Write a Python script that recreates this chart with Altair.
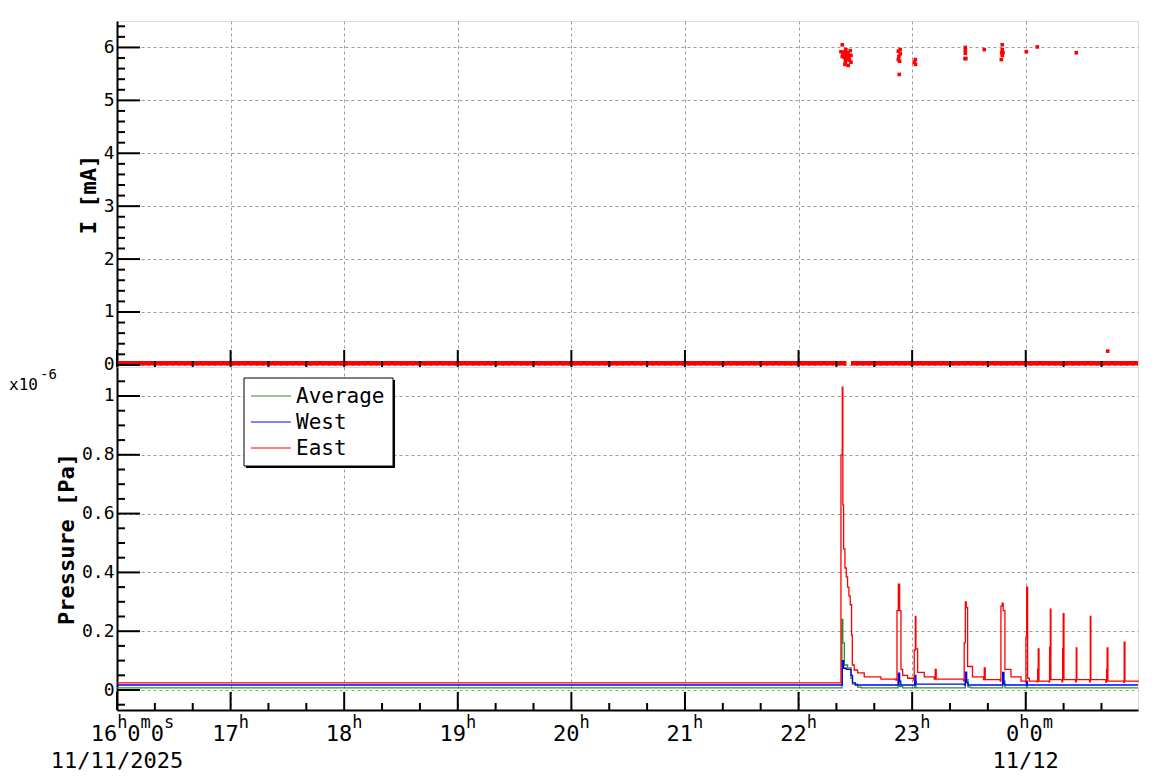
import altair as alt
import pandas as pd

# ---------------- data (time = minutes after 2025-11-11 16:00:00) ----------------
# Pressure in units of 1e-6 Pa
east_t = [0, 382.4, 382.9, 383.1, 383.4, 383.8, 384.5, 385.2, 385.9, 386.6, 387.3, 388.0, 388.4, 389.4,
          391.2, 394.7, 403.5, 411.4, 412.0, 412.7, 413.4, 414.1, 415.0, 417.6, 420.8, 421.1, 421.7,
          422.0, 422.9, 426.4, 431.7, 432.2, 432.7, 447.2, 447.5, 448.1, 448.6, 449.3, 450.5, 451.9,
          457.7, 458.1, 458.6, 466.5, 466.9, 467.6, 468.1, 469.0, 472.2, 477.5, 479.8, 480.1, 480.5,
          481.0, 481.9, 485.9, 486.3, 486.6, 487.0, 492.3, 492.6, 493.0, 493.3, 499.1, 499.5, 499.8,
          500.2, 506.3, 506.7, 507.0, 513.7, 514.1, 514.4, 522.3, 522.7, 523.0, 523.4, 531.7, 532.0,
          532.4, 539.3]
east_v = [0.024, 0.80, 0.80, 1.03, 0.63, 0.48, 0.415, 0.385, 0.35, 0.32, 0.29, 0.187, 0.085, 0.068,
          0.058, 0.045, 0.037, 0.034, 0.27, 0.36, 0.27, 0.07, 0.05, 0.04, 0.034, 0.136, 0.25,
          0.14, 0.06, 0.045, 0.037, 0.07, 0.037, 0.03, 0.16, 0.30, 0.28, 0.08, 0.08, 0.045,
          0.035, 0.075, 0.035, 0.03, 0.285, 0.295, 0.27, 0.07, 0.045, 0.03, 0.028, 0.18, 0.35,
          0.04, 0.03, 0.028, 0.07, 0.14, 0.03, 0.028, 0.145, 0.275, 0.035, 0.028, 0.14, 0.26,
          0.035, 0.028, 0.143, 0.035, 0.028, 0.25, 0.035, 0.027, 0.07, 0.143, 0.03, 0.026, 0.163,
          0.03, 0.026]
west_t = [0, 382.4, 383.1, 383.8, 385.2, 386.6, 387.7, 388.5, 390.0, 412.3, 412.7, 413.4, 414.0,
          421.0, 421.3, 422.0, 447.6, 448.1, 448.8, 449.5, 467.4, 467.8, 468.5, 469.0, 480.2, 480.4,
          480.8, 539.3]
west_v = [0.017, 0.017, 0.10, 0.074, 0.07, 0.07, 0.05, 0.024, 0.017, 0.017, 0.057, 0.03, 0.017,
          0.017, 0.05, 0.02, 0.017, 0.061, 0.025, 0.017, 0.017, 0.06, 0.02, 0.017, 0.017, 0.03,
          0.017, 0.017]
avg_t = [0, 382.4, 382.9, 383.4, 384.2, 385.9, 387.7, 388.5, 391.2, 393.0, 412.2, 412.6, 413.4, 415.0,
         421.1, 421.4, 422.0, 447.6, 448.1, 449.5, 451.0, 467.4, 467.8, 469.0, 480.2, 480.4, 480.8,
         539.3]
avg_v = [0.007, 0.007, 0.24, 0.16, 0.085, 0.075, 0.04, 0.02, 0.01, 0.007, 0.007, 0.035, 0.012, 0.007,
         0.007, 0.03, 0.007, 0.007, 0.035, 0.01, 0.007, 0.007, 0.03, 0.007, 0.007, 0.02, 0.007,
         0.007]

# Current I [mA]: isolated readings
cur_t = [383.1, 382.4, 383.5, 384.5, 385.6, 387.3, 383.1, 384.2, 385.2, 386.6, 387.7, 385.9, 384.8,
         387.7, 384.5, 386.2, 386.9, 383.8, 384.0, 386.0, 385.0, 386.4, 384.9,
         413.7, 412.7, 413.7, 413.0, 412.7, 413.4, 413.2,
         421.7, 421.1, 421.8,
         448.1, 448.1, 448.1, 448.4, 447.9, 458.1,
         467.6, 467.6, 467.6, 467.3, 468.0, 467.1,
         480.3, 486.1, 506.7, 523.3]
cur_v = [6.05, 5.92, 5.88, 5.92, 5.88, 5.94, 5.83, 5.81, 5.85, 5.81, 5.85, 5.77, 5.73,
         5.72, 5.68, 5.66, 5.76, 5.86, 5.90, 5.90, 5.96, 5.86, 5.79,
         5.96, 5.93, 5.88, 5.83, 5.77, 5.74, 5.49,
         5.77, 5.72, 5.68,
         6.00, 5.95, 5.89, 5.79, 5.79, 5.96,
         6.05, 5.96, 5.85, 5.90, 5.90, 5.77,
         5.92, 6.01, 5.90, 0.26]
# Current near zero (dense readings) as segments
cur_base_t0 = [0, 387.7]
cur_base_t1 = [385.3, 539.3]
cur_base_v = [0.03, 0.03]

series_names = ["Average", "West", "East"]
series_colors = ["#2b8f2b", "#0000ff", "#ff0000"]

hour_t = [0, 60, 120, 180, 240, 300, 360, 420, 480]
hour_labels = [[("16", "h"), ("0", "m"), ("0", "s")], [("17", "h")], [("18", "h")], [("19", "h")],
               [("20", "h")], [("21", "h")], [("22", "h")], [("23", "h")], [("0", "h"), ("0", "m")]]
date_t = [0, 480]
date_labels = ["11/11/2025", "11/12"]

i_major = [0, 1, 2, 3, 4, 5, 6]
i_minor = [round(k * 0.2, 2) for k in range(33) if k % 5]
p_major = [0, 0.2, 0.4, 0.6, 0.8, 1.0]
p_minor = [round(k * 0.05, 2) for k in range(-1, 22) if k % 4]
x_minor = [k * 20 for k in range(27) if k % 3]

# ---------------- layout / style ----------------
FONT = "DejaVu Sans Mono"
W, H1, H2 = 1021, 346, 343
xs = alt.Scale(domain=[0, 539.3], nice=False, zero=False)
y1s = alt.Scale(domain=[-0.04, 6.5], nice=False, zero=False)
y2s = alt.Scale(domain=[-0.068, 1.0986], nice=False, zero=False)

GRID = dict(grid=True, gridColor="#9b9b9b", gridDash=[3, 3], gridWidth=1)
xax_top = alt.Axis(values=hour_t[1:], labels=False, ticks=False, tickSize=0, title=None, domain=False,
                   **GRID)
xax_bot = alt.Axis(values=hour_t[1:], labels=False, ticks=False, tickSize=0, title=None, domain=True,
                   domainColor="black", domainWidth=2, **GRID)


def yaxis(vals, title):
    return alt.Axis(values=vals, title=title, format="~g", ticks=False, tickSize=0, labelPadding=3,
                    labelFont=FONT, labelFontSize=18, labelColor="black", labelFlush=False,
                    labelOverlap=False, domain=True, domainColor="black", domainWidth=2,
                    titleFont=FONT, titleFontSize=22, titleFontWeight="bold", titleColor="black",
                    titlePadding=3, **GRID)


y1ax = yaxis(i_major, "I [mA]")
y2ax = yaxis(p_major, "Pressure [Pa]")


def make_X(xax):
    def X(field="t"):
        return alt.X(f"{field}:Q", scale=xs, axis=xax)
    return X


X1 = make_X(xax_top)
X2 = make_X(xax_bot)


def yticks(vals, length, ys, yax):
    return alt.Chart(pd.DataFrame({"v": vals})).mark_rule(color="black", strokeWidth=2).encode(
        y=alt.Y("v:Q", scale=ys, axis=yax), x=alt.value(0), x2=alt.value(length))


def xticks(vals, length, H, X):
    return alt.Chart(pd.DataFrame({"t": vals})).mark_rule(color="black", strokeWidth=2).encode(
        x=X(), y=alt.value(H), y2=alt.value(H - length))


# ---------------- top panel: current ----------------
base_df = pd.DataFrame({"t": cur_base_t0, "t1": cur_base_t1, "v": cur_base_v})
cur_df = pd.DataFrame({"t": cur_t, "v": cur_v})

top_layers = [
    alt.Chart(base_df).mark_rule(color="#ff0000", strokeWidth=4.5).encode(
        x=X1(), x2="t1:Q", y=alt.Y("v:Q", scale=y1s, axis=y1ax)),
    alt.Chart(cur_df).mark_square(color="#ff0000", size=13, opacity=1).encode(
        x=X1(), y=alt.Y("v:Q", scale=y1s, axis=y1ax)),
    yticks(i_major, 23, y1s, y1ax),
    yticks(i_minor, 8, y1s, y1ax),
    xticks(hour_t, 17, H1, X1),
    xticks(x_minor, 6, H1, X1),
]
top = alt.layer(*top_layers).properties(width=W, height=H1)

# ---------------- bottom panel: pressure ----------------
press = pd.concat([
    pd.DataFrame({"t": avg_t, "v": avg_v, "series": series_names[0]}),
    pd.DataFrame({"t": west_t, "v": west_v, "series": series_names[1]}),
    pd.DataFrame({"t": east_t, "v": east_v, "series": series_names[2]}),
], ignore_index=True)

bot_layers = [
    alt.Chart(press).mark_line(interpolate="step-after", strokeWidth=1.3).encode(
        x=X2(), y=alt.Y("v:Q", scale=y2s, axis=y2ax),
        color=alt.Color("series:N", scale=alt.Scale(domain=series_names, range=series_colors),
                        legend=None)),
    yticks(p_major, 23, y2s, y2ax),
    yticks(p_minor, 8, y2s, y2ax),
    xticks(hour_t, 18, H2, X2),
    xticks(x_minor, 7, H2, X2),
]

# time labels with superscript units
MAIN_FS, SUP_FS = 22, 17
MAIN_ADV, SUP_ADV = 0.602 * MAIN_FS, 0.602 * SUP_FS
for t, pairs in zip(hour_t, hour_labels):
    first_w = len(pairs[0][0]) * MAIN_ADV + len(pairs[0][1]) * SUP_ADV
    off = -first_w / 2 - (8 if len(pairs) > 1 else 0)
    for num, unit in pairs:
        bot_layers.append(
            alt.Chart(pd.DataFrame({"t": [t], "s": [num]})).mark_text(
                align="left", baseline="alphabetic", dx=off, font=FONT, fontSize=MAIN_FS,
                color="black").encode(x=X2(), y=alt.value(H2 + 31), text="s:N"))
        off += len(num) * MAIN_ADV
        bot_layers.append(
            alt.Chart(pd.DataFrame({"t": [t], "s": [unit]})).mark_text(
                align="left", baseline="alphabetic", dx=off, font=FONT, fontSize=SUP_FS,
                color="black").encode(x=X2(), y=alt.value(H2 + 18), text="s:N"))
        off += len(unit) * SUP_ADV

bot_layers.append(
    alt.Chart(pd.DataFrame({"t": date_t, "s": date_labels})).mark_text(
        align="center", baseline="alphabetic", font=FONT, fontSize=MAIN_FS, color="black").encode(
        x=X2(), y=alt.value(H2 + 58), text="s:N"))

# exponent label
bot_layers.append(
    alt.Chart(pd.DataFrame({"s": ["x10"]})).mark_text(
        align="left", baseline="alphabetic", font=FONT, fontSize=16, color="black").encode(
        x=alt.value(-108), y=alt.value(23), text="s:N"))
bot_layers.append(
    alt.Chart(pd.DataFrame({"s": ["-6"]})).mark_text(
        align="left", baseline="alphabetic", font=FONT, fontSize=14, color="black").encode(
        x=alt.value(-77), y=alt.value(12), text="s:N"))

# legend box (manual)
bot_layers.append(
    alt.Chart(pd.DataFrame({"s": ["shadow"]})).mark_rect(fill="black").encode(
        x=alt.value(129), x2=alt.value(278), y=alt.value(13), y2=alt.value(101)))
bot_layers.append(
    alt.Chart(pd.DataFrame({"s": ["box"]})).mark_rect(fill="white", stroke="black", strokeWidth=1).encode(
        x=alt.value(127), x2=alt.value(276), y=alt.value(11), y2=alt.value(99)))
for i, (name, col) in enumerate(zip(series_names, series_colors)):
    row_y = 29 + 26 * i
    bot_layers.append(
        alt.Chart(pd.DataFrame({"s": [name]})).mark_rule(color=col, strokeWidth=1).encode(
            x=alt.value(134), x2=alt.value(174), y=alt.value(row_y)))
    bot_layers.append(
        alt.Chart(pd.DataFrame({"s": [name]})).mark_text(
            align="left", baseline="alphabetic", font=FONT, fontSize=21, color="black").encode(
            x=alt.value(179), y=alt.value(row_y + 7), text="s:N"))

bottom = alt.layer(*bot_layers).properties(width=W, height=H2)

chart = alt.vconcat(top, bottom, spacing=0, bounds="flush").properties(
    padding={"left": 0, "top": 12, "right": 5, "bottom": 5}
).configure_view(stroke="black", strokeWidth=1).configure(background="white")

chart.save("out.html", embed_options={"renderer": "svg", "actions": False})
